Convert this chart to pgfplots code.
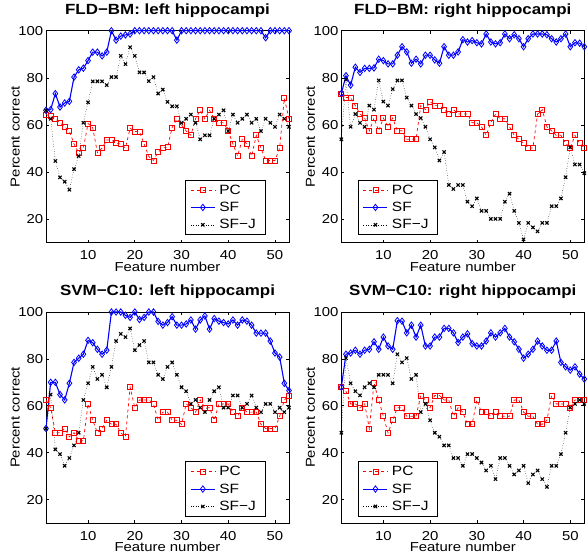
\documentclass[border=0pt]{standalone}
\usepackage{fontspec}
\setmainfont{Liberation Sans}[FakeStretch=1.15]
\usepackage{pgfplots}
\usepackage{pgfplotstable}
\pgfplotsset{compat=1.18}

% x = feature number, pc / sf / sfj = percent correct
\pgfplotstableread{
x pc sf sfj
1 64.4 66.2 66.2
2 63.7 66.5 62.6
3 62.6 73.3 44.7
4 60.9 67.6 37.7
5 59.2 69.3 35.9
6 57.4 70.0 32.5
7 51.9 80.3 41.2
8 48.2 83.4 46.8
9 50.2 84.1 60.9
10 60.6 87.3 69.6
11 58.8 90.9 78.5
12 48.2 90.9 78.5
13 50.2 89.3 78.5
14 53.6 90.9 76.9
15 53.6 100 80.3
16 52.2 96.0 80.3
17 51.9 97.7 89.3
18 50.2 98.2 85.8
19 58.6 98.6 93.0
20 57.2 100 89.3
21 57.2 100 82.3
22 51.9 100 82.3
23 46.6 100 78.6
24 44.9 100 80.3
25 48.5 100 73.3
26 50.2 100 75.0
27 50.5 100 69.8
28 58.9 100 67.9
29 62.6 96.0 67.9
30 60.0 100 60.9
31 57.4 100 62.6
32 55.6 100 64.4
33 62.6 100 60.9
34 66.2 100 53.9
35 62.6 100 55.6
36 66.2 100 55.6
37 62.6 100 62.6
38 60.9 100 64.4
39 60.9 100 66.2
40 57.4 100 57.4
41 51.9 100 64.4
42 46.8 100 60.9
43 53.9 100 62.6
44 51.9 100 64.4
45 46.8 100 60.9
46 55.6 100 62.6
47 50.2 100 57.4
48 44.9 97.0 62.6
49 44.9 100 60.9
50 44.9 100 59.2
51 50.2 100 64.4
52 71.3 100 62.6
53 62.6 100 59.2
}\fldleft

\pgfplotstableread{
x pc sf sfj
1 73.3 73.3 53.9
2 71.6 80.9 79.2
3 71.6 76.9 59.2
4 68.2 84.5 64.6
5 64.6 82.3 60.9
6 62.9 84.0 59.2
7 57.5 84.0 68.2
8 62.9 84.2 66.5
9 57.5 87.9 78.9
10 62.9 87.3 69.9
11 59.2 85.9 68.2
12 62.9 85.9 75.2
13 57.5 89.6 78.9
14 57.5 93.2 78.9
15 53.9 91.0 71.6
16 53.9 86.2 68.2
17 53.9 87.9 64.6
18 68.2 85.9 62.9
19 66.5 89.6 59.2
20 69.9 89.6 53.9
21 68.2 87.6 50.5
22 68.2 86.2 44.9
23 66.5 93.2 48.5
24 64.6 89.6 34.5
25 66.5 89.6 32.8
26 64.6 91.0 34.5
27 64.6 96.2 34.5
28 64.6 95.2 27.4
29 60.9 95.8 25.5
30 60.9 94.9 28.8
31 59.2 94.4 23.5
32 55.6 98.6 23.5
33 60.9 95.2 20.1
34 64.6 94.4 20.1
35 62.6 94.9 20.1
36 62.6 98.6 27.4
37 59.2 96.6 30.8
38 55.6 98.3 23.5
39 53.9 96.6 18.4
40 52.2 93.2 11.4
41 50.2 96.6 18.4
42 50.2 98.6 16.5
43 64.6 98.6 14.8
44 66.5 98.6 18.4
45 59.2 98.3 18.4
46 57.5 96.6 25.5
47 55.6 95.2 25.5
48 55.6 96.6 28.8
49 52.2 98.6 37.8
50 50.2 93.2 50.5
51 55.6 94.9 43.2
52 52.2 94.7 43.2
53 50.2 93.2 39.5
}\fldright

\pgfplotstableread{
x pc sf sfj
1 62.5 50.3 50.3
2 59.2 70.0 64.8
3 48.5 70.0 41.4
4 48.5 64.8 39.4
5 50.3 62.5 34.4
6 46.8 69.6 37.7
7 48.5 78.5 43.1
8 45.1 80.3 48.5
9 45.1 82.0 62.5
10 60.8 87.9 69.6
11 53.8 86.9 76.6
12 48.5 84.1 71.4
13 50.3 82.0 73.2
14 53.8 83.7 67.9
15 52.1 100 76.6
16 52.1 100 87.6
17 48.5 100 90.7
18 46.8 98.6 89.3
19 67.9 97.7 93.0
20 59.2 100 83.7
21 62.5 96.8 85.9
22 62.5 97.7 87.6
23 62.5 100 78.5
24 60.8 100 78.5
25 53.8 96.0 73.2
26 57.3 94.4 71.4
27 57.3 95.5 76.6
28 53.8 98.0 78.5
29 53.8 94.4 73.2
30 52.1 94.4 67.9
31 60.8 94.9 66.2
32 59.2 96.6 60.8
33 57.3 92.7 62.5
34 62.5 96.6 59.2
35 59.2 98.3 57.3
36 59.2 92.7 62.5
37 53.8 97.2 66.2
38 60.8 96.1 67.9
39 60.8 95.5 59.2
40 60.8 94.9 59.2
41 57.3 96.6 64.4
42 55.5 94.4 64.4
43 59.2 96.6 59.2
44 57.3 96.1 60.8
45 57.3 94.4 64.4
46 57.3 91.0 59.2
47 52.1 91.0 57.3
48 50.3 91.0 60.8
49 50.3 87.6 60.8
50 50.3 82.5 57.3
51 55.5 80.8 59.2
52 62.5 69.6 57.3
53 64.4 66.5 59.2
}\svmleft

\pgfplotstableread{
x pc sf sfj
1 67.9 67.9 48.5
2 66.2 82.0 80.3
3 60.8 82.5 69.6
4 60.8 83.7 66.2
5 59.2 82.0 64.4
6 60.8 83.7 67.9
7 50.3 84.1 69.6
8 69.6 87.3 67.9
9 62.5 84.1 73.2
10 55.5 89.3 73.2
11 48.5 85.5 73.2
12 53.8 84.1 69.6
13 59.2 96.3 82.0
14 59.2 96.1 78.5
15 55.5 91.1 80.3
16 55.5 94.4 71.4
17 55.5 89.3 73.2
18 64.4 94.4 57.3
19 62.5 85.5 60.8
20 59.2 85.5 53.8
21 64.4 89.3 48.5
22 64.4 89.3 46.8
23 62.5 93.0 43.1
24 62.5 93.0 43.1
25 55.5 91.1 37.7
26 59.2 87.0 37.7
27 57.3 89.3 34.4
28 52.1 90.7 39.4
29 52.1 86.5 39.4
30 62.5 85.5 37.7
31 57.3 85.5 35.8
32 57.3 87.6 32.4
33 55.5 91.1 34.4
34 57.3 89.3 28.7
35 55.5 91.1 37.7
36 55.5 93.0 37.7
37 55.5 89.3 34.4
38 62.5 87.3 30.7
39 62.5 84.1 32.4
40 57.3 80.3 34.4
41 55.5 82.0 27.0
42 55.5 84.1 30.7
43 52.1 87.6 32.4
44 52.1 85.5 28.7
45 53.8 83.7 25.4
46 64.4 83.7 34.4
47 60.8 87.6 34.4
48 60.8 78.5 39.4
49 60.8 76.6 48.5
50 59.2 75.2 59.2
51 62.5 76.6 60.8
52 62.5 73.5 62.5
53 62.5 71.4 60.8
}\svmright

\pgfplotsset{
  hippo/.style={
    scale only axis, width=243bp, height=212bp,
    xmin=1, xmax=53, ymin=10, ymax=100,
    xtick={10,20,30,40,50}, ytick={20,40,60,80,100},
    tick align=inside, major tick length=3bp,
    axis line style={line width=0.8bp},
    every tick/.style={black, line width=0.6bp},
    tick label style={font=\fontsize{13}{15}\selectfont, inner sep=0pt},
    /pgf/number format/assume math mode=true,
    xticklabel style={yshift=-8bp},
    yticklabel style={xshift=-2.7bp},
    xlabel={Feature number}, ylabel={Percent correct},
    label style={font=\fontsize{13}{15}\selectfont, inner sep=0pt},
    xlabel style={at={(axis description cs:0.5,-0.137)}, anchor=base},
    ylabel style={at={(axis description cs:-0.109,0.5)}, anchor=base},
    title style={font=\bfseries\fontsize{14.8}{17}\selectfont, at={(axis description cs:0.5,1.05)}, anchor=base, inner sep=0pt},
    legend style={font=\fontsize{13.5}{15}\selectfont, draw=black, line width=0.6bp,
      fill=white, inner xsep=5bp, inner ysep=2.5bp, row sep=2.5bp,
      nodes={inner xsep=4bp}},
    legend cell align=left,
    legend image code/.code={\draw[mark repeat=2,mark phase=2] plot coordinates {(0bp,0bp) (12bp,0bp) (24bp,0bp)};},
  },
  pcline/.style={red, dashed, line width=0.7bp, mark=square, mark size=2.5bp, mark options={solid, line width=0.8bp}},
  sfline/.style={blue, line width=1.1bp, mark=diamond, mark size=3.2bp, mark options={solid, line width=0.8bp}},
  sfjline/.style={black, dotted, line width=0.5bp, mark=x, mark size=2.3bp, mark options={solid, line width=1.1bp}},
}

\begin{document}
\begin{tikzpicture}
\path[use as bounding box] (0,0) rectangle (588bp,554bp);

\begin{axis}[hippo, at={(46bp,311.3bp)}, anchor=south west,
  title={FLD−BM: left hippocampi},
  legend style={at={(0.572,0.036)}, anchor=south west}]
  \addplot[pcline] table[x=x, y=pc] {\fldleft};
  \addplot[sfline] table[x=x, y=sf] {\fldleft};
  \addplot[sfjline] table[x=x, y=sfj] {\fldleft};
  \legend{PC, SF, SF−J}
\end{axis}

\begin{axis}[hippo, at={(341.3bp,311.3bp)}, anchor=south west,
  title={FLD−BM: right hippocampi},
  legend style={at={(0.067,0.036)}, anchor=south west}]
  \addplot[pcline] table[x=x, y=pc] {\fldright};
  \addplot[sfline] table[x=x, y=sf] {\fldright};
  \addplot[sfjline] table[x=x, y=sfj] {\fldright};
  \legend{PC, SF, SF−J}
\end{axis}

\begin{axis}[hippo, height=211bp, at={(46bp,31bp)}, anchor=south west,
  title={SVM−C10: left hippocampi},
  legend style={at={(0.572,0.03)}, anchor=south west}]
  \addplot[pcline] table[x=x, y=pc] {\svmleft};
  \addplot[sfline] table[x=x, y=sf] {\svmleft};
  \addplot[sfjline] table[x=x, y=sfj] {\svmleft};
  \legend{PC, SF, SF−J}
\end{axis}

\begin{axis}[hippo, height=211bp, at={(341.3bp,31bp)}, anchor=south west,
  title={SVM−C10: right hippocampi},
  legend style={at={(0.067,0.03)}, anchor=south west}]
  \addplot[pcline] table[x=x, y=pc] {\svmright};
  \addplot[sfline] table[x=x, y=sf] {\svmright};
  \addplot[sfjline] table[x=x, y=sfj] {\svmright};
  \legend{PC, SF, SF−J}
\end{axis}
\end{tikzpicture}
\end{document}
